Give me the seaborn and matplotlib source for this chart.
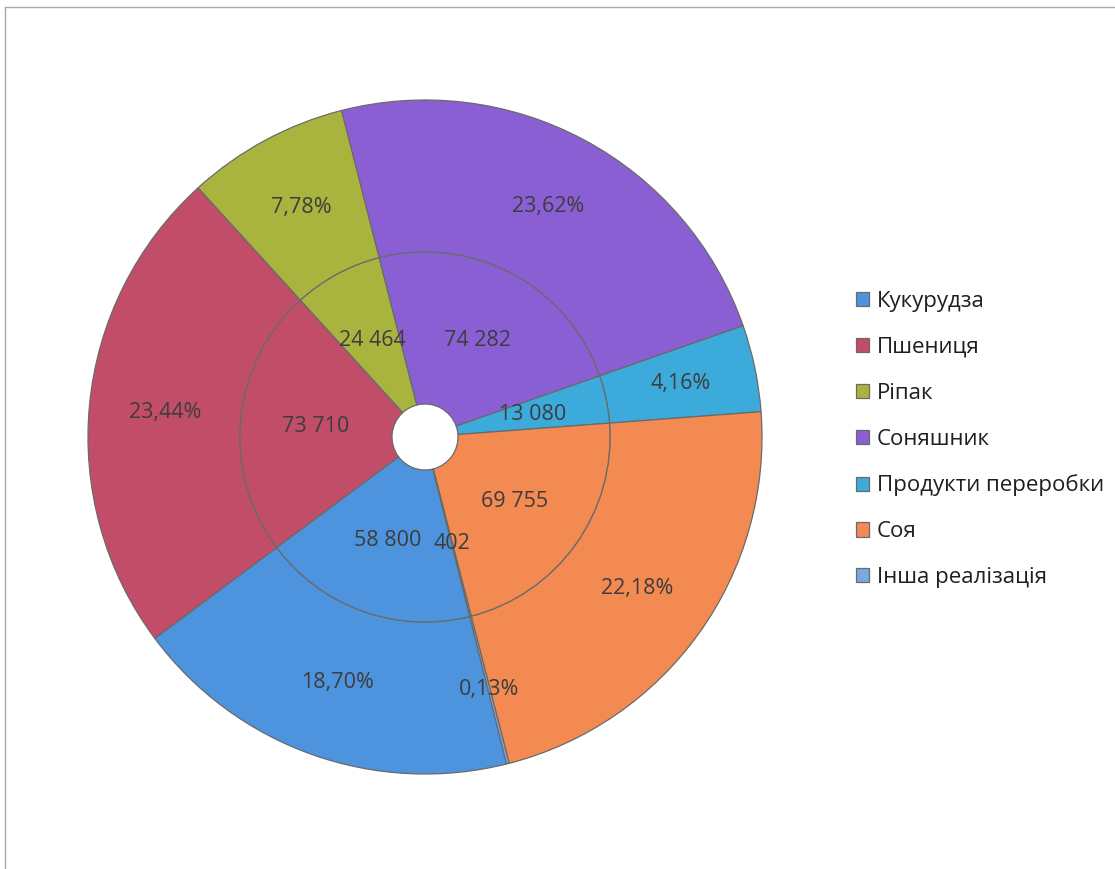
import matplotlib
matplotlib.use("Agg")
import matplotlib.pyplot as plt
import seaborn as sns
from matplotlib.lines import Line2D

# Data
crops = ['Кукурудза', 'Пшениця', 'Ріпак', 'Соняшник',
         'Продукти переробки', 'Соя', 'Інша реалізація']
volumes = [58800, 73710, 24464, 74282, 13080, 69755, 402]
colors = ['#4d93dd', '#c24d68', '#a9b43f', '#8a5fd4',
          '#3cabdb', '#f38a52', '#7aa8e0']

sns.set_theme(style="white")
plt.rcParams['font.family'] = ['Open Sans', 'DejaVu Sans']

total = sum(volumes)

fig = plt.figure(figsize=(11.15, 8.69), dpi=100)
fig.patch.set_facecolor('white')
ax = fig.add_axes([88 / 1115, 1 - 774 / 869, 674 / 1115, 674 / 869])

start = 90 - 166  # first slice starts a bit left of 6 o'clock, clockwise
edge = dict(edgecolor='#6a6a6a', linewidth=0.9)

# outer ring: percentages
outer, _, _ = ax.pie(
    volumes, colors=colors, radius=1.0, startangle=start, counterclock=False,
    wedgeprops=dict(width=1.0 - 185 / 337, **edge),
    autopct=lambda p: f'{p:.2f}%'.replace('.', ','), pctdistance=261 / 337,
    textprops=dict(color='#3d3d3d', fontsize=15.5))

# inner ring: absolute values
inner_r = 185 / 337
inner, _, _ = ax.pie(
    volumes, colors=colors, radius=inner_r, startangle=start, counterclock=False,
    wedgeprops=dict(width=inner_r - 33 / 337, **edge),
    autopct=lambda p: f'{round(p * total / 100):,}'.replace(',', ' '),
    pctdistance=110 / 185,
    textprops=dict(color='#3d3d3d', fontsize=15.5))

ax.set_xlim(-1, 1)
ax.set_ylim(-1, 1)
ax.set_aspect('equal')
ax.axis('off')

fig.legend(outer, crops, loc='upper left', bbox_to_anchor=(836 / 1115, 1 - 271 / 869),
           frameon=False, fontsize=16, labelspacing=1.12,
           handlelength=0.6, handleheight=0.6, handletextpad=0.35,
           labelcolor='#1f1f1f')

# thin frame lines left over from the scanned page
fig.add_artist(Line2D([5 / 1115, 1.0], [1 - 7 / 869, 1 - 7 / 869],
                      transform=fig.transFigure, color='#a8a8a8', lw=1))
fig.add_artist(Line2D([5 / 1115, 5 / 1115], [0.0, 1 - 7 / 869],
                      transform=fig.transFigure, color='#a8a8a8', lw=1))

fig.savefig('out.png', dpi=100)
